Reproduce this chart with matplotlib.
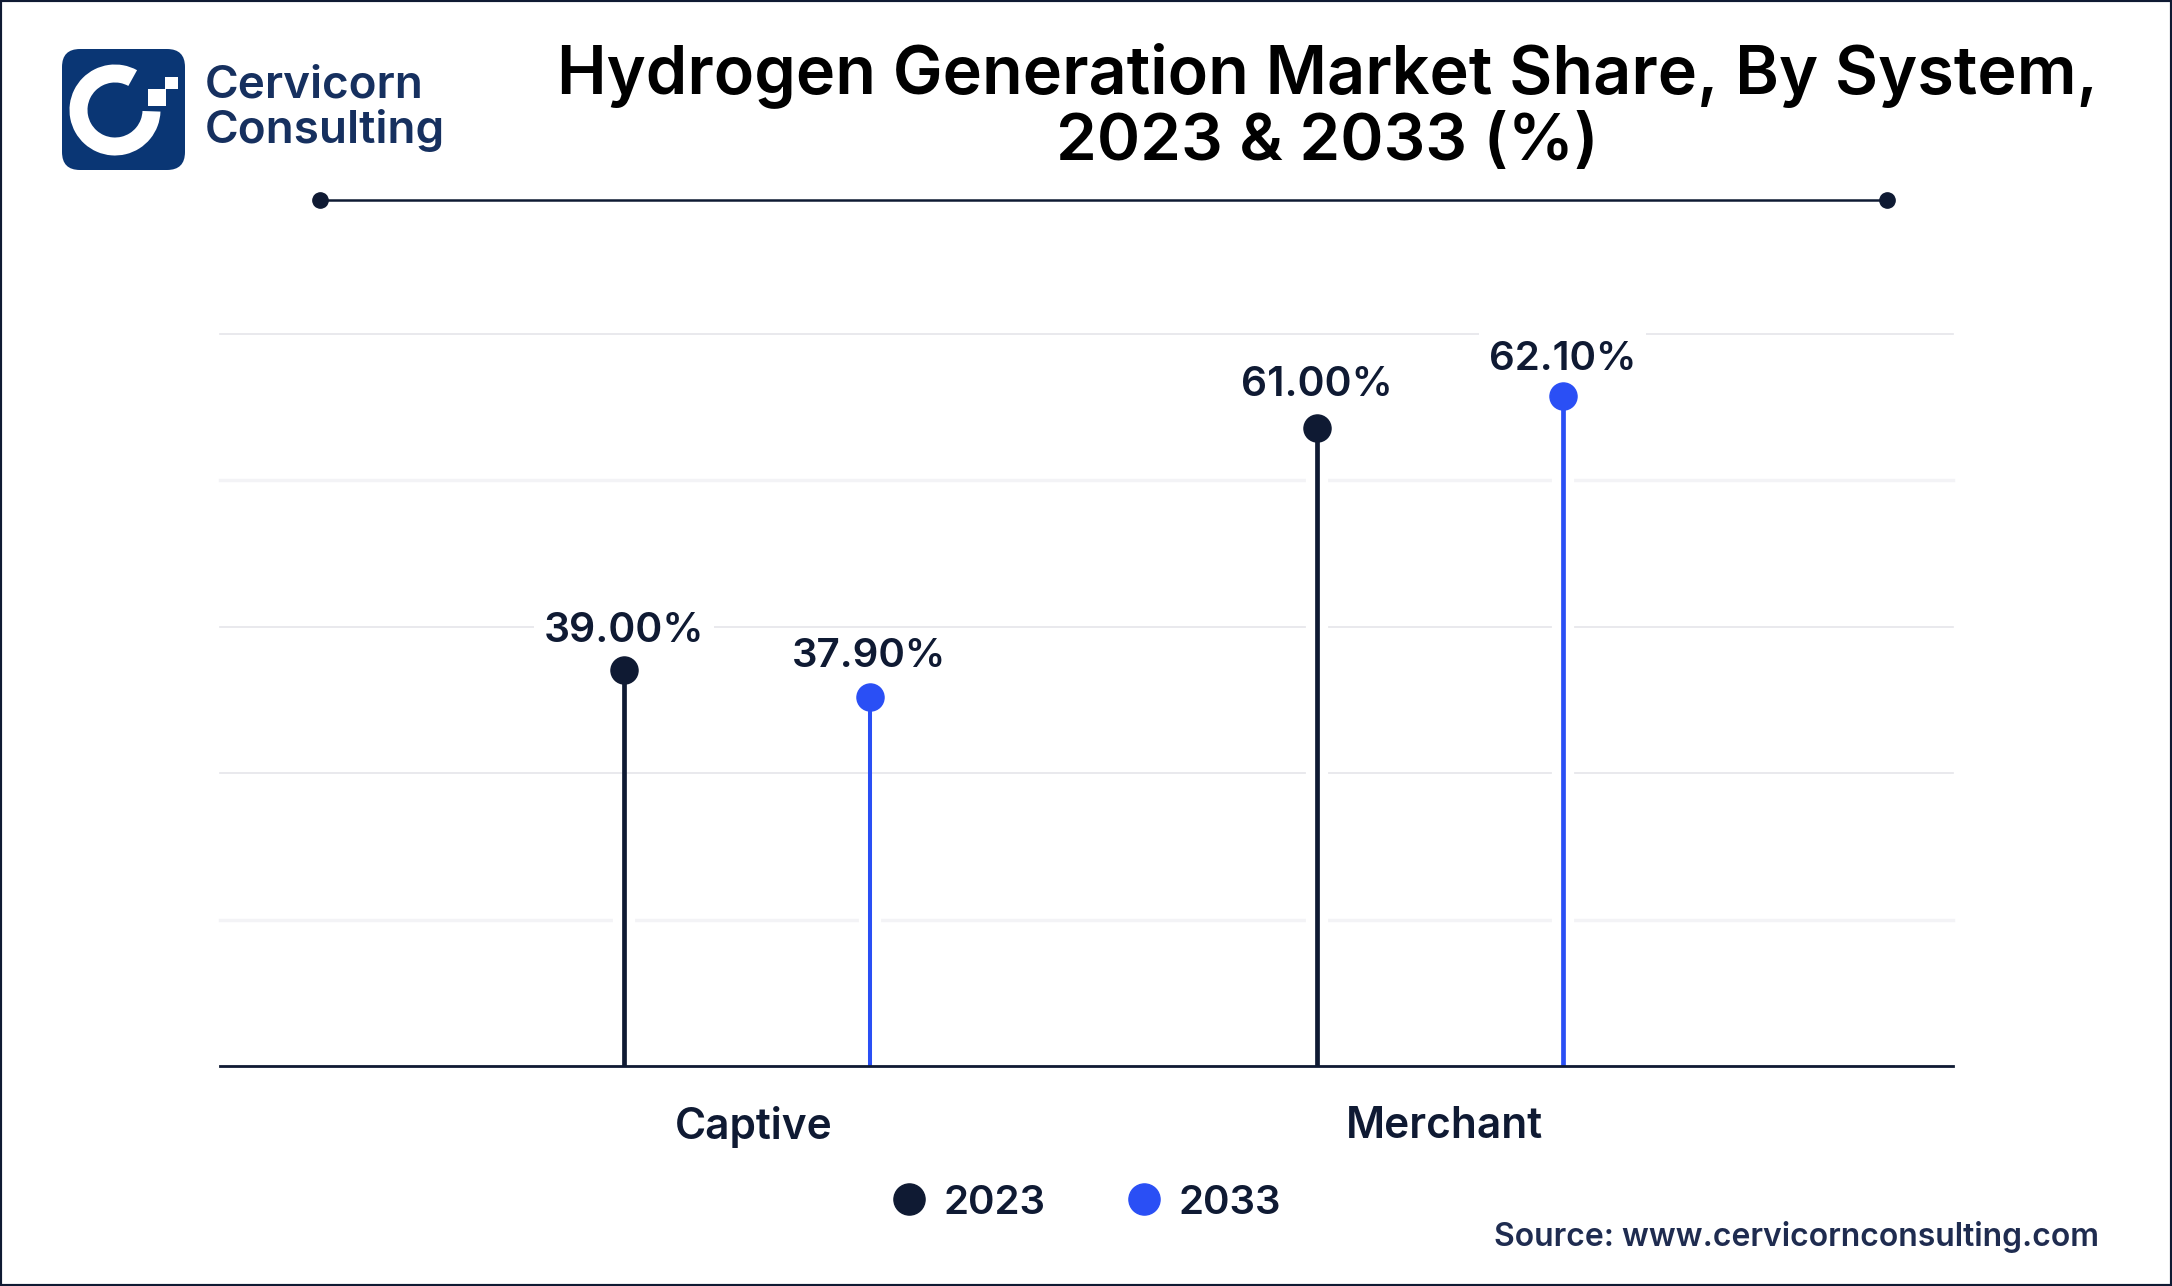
import matplotlib
matplotlib.use('Agg')
import matplotlib.pyplot as plt
from matplotlib.patches import FancyBboxPatch, Wedge, Rectangle

W, H = 2172, 1286

categories = ['Captive', 'Merchant']
years = ['2023', '2033']
# stem heights as drawn in the picture, they do not quite follow the printed labels
heights_2023 = [37.9, 61.0]
heights_2033 = [35.3, 64.1]
labels_2023 = ['39.00%', '61.00%']
labels_2033 = ['37.90%', '62.10%']
y_ticks = [0, 14, 28, 42, 56, 70]

DARK = '#0f1a33'
BLUE = '#2a4ff5'
NAVY = '#0a3674'
FONT = ['Inter', 'Roboto', 'DejaVu Sans']

plt.rcParams['font.family'] = FONT


def fx(px):
    return px / W


def fy(px):
    return 1 - px / H


fig = plt.figure(figsize=(W / 100, H / 100), dpi=100, facecolor='white')
fig.add_artist(Rectangle((0, 0), 1, 1, transform=fig.transFigure, fill=False,
                         edgecolor=DARK, linewidth=3))

# Title and divider
fig.text(fx(1327), fy(75), 'Hydrogen Generation Market Share, By System,', ha='center', va='center',
         fontsize=47.9, fontweight='semibold', color='black')
fig.text(fx(1327), fy(143), '2023 & 2033 (%)', ha='center', va='center',
         fontsize=47.3, fontweight='semibold', color='black')
fig.add_artist(plt.Line2D([fx(320), fx(1887)], [fy(199.5), fy(199.5)], color=DARK, linewidth=1.8,
                          marker='o', markersize=11, markevery=[0, 1], transform=fig.transFigure))

# Logo
logo = fig.add_axes([0, 0, 1, 1], facecolor='none')
logo.set_xlim(0, W)
logo.set_ylim(H, 0)
logo.axis('off')
logo.add_patch(FancyBboxPatch((62, 49), 123, 121, boxstyle='round,pad=0,rounding_size=18',
                              facecolor=NAVY, edgecolor='none'))
logo.add_patch(Wedge((115, 110), 45.5, 2, 299, width=18, facecolor='white', edgecolor='none'))
logo.add_patch(Rectangle((147.5, 89), 18, 17, facecolor='white', edgecolor='none'))
logo.add_patch(Rectangle((165, 77), 12.5, 12, facecolor='white', edgecolor='none'))
logo.text(205, 85, 'Cervicorn', fontsize=33, color='#16305f', va='center', ha='left', fontweight='semibold')
logo.text(205, 130, 'Consulting', fontsize=33, color='#16305f', va='center', ha='left', fontweight='semibold')

# Chart
ax = fig.add_axes([fx(220), fy(1066), fx(1953 - 220), (1066 - 334) / H], facecolor='none')
xs = range(len(categories))
offset = 0.177
lift_2023 = [28, 31]
lift_2033 = [29, 26]
gap_tops = [21, 70]
blue_widths = [2.9, 3.4]
for i in xs:
    x1 = i - offset
    x2 = i + offset
    # the grid stops short of the stems
    for x, top in [(x1, min(gap_tops[i], heights_2023[i])), (x2, min(gap_tops[i], heights_2033[i]))]:
        ax.plot([x, x], [0.3, top], color='white', linewidth=16, zorder=2, solid_capstyle='butt')
    ax.plot([x1, x1], [0, heights_2023[i]], color=DARK, linewidth=3.4, zorder=3, solid_capstyle='butt')
    ax.plot([x2, x2], [0, heights_2033[i]], color=BLUE, linewidth=blue_widths[i], zorder=3, solid_capstyle='butt')
    ax.annotate(labels_2023[i], (x1, heights_2023[i]), xytext=(0, lift_2023[i]), textcoords='offset points',
                ha='center', va='center', fontsize=29.5, fontweight='semibold', color=DARK, zorder=4,
                bbox=dict(facecolor='white', edgecolor='none', pad=7))
    ax.annotate(labels_2033[i], (x2, heights_2033[i]), xytext=(0, lift_2033[i]), textcoords='offset points',
                ha='center', va='center', fontsize=29, fontweight='semibold', color=DARK, zorder=4,
                bbox=dict(facecolor='white', edgecolor='none', pad=7))

h1, = ax.plot([i - offset for i in xs], heights_2023, 'o', color=DARK, markersize=19.5, zorder=5,
              linestyle='none', label=years[0], clip_on=False)
h2, = ax.plot([i + offset for i in xs], heights_2033, 'o', color=BLUE, markersize=19.5, zorder=5,
              linestyle='none', label=years[1], clip_on=False)

ax.set_xlim(-0.76, 1.74)
ax.set_ylim(0, 70)
ax.set_yticks(y_ticks)
ax.set_yticklabels([])
ax.set_xticks([0.01, 1.007])
ax.set_xticklabels(categories, fontsize=30.5, fontweight='semibold', color=DARK)
ax.tick_params(axis='both', length=0)
ax.tick_params(axis='x', pad=29)
ax.grid(axis='y', color='#e5e5ea', linewidth=1.2, zorder=0)
for tick, line in zip(y_ticks, ax.get_ygridlines()):
    line.set_clip_on(False)
    if tick in (14, 56):
        line.set_color('#f3f3f6')
        line.set_linewidth(2.4)
ax.set_axisbelow(True)
for s in ['top', 'left', 'right']:
    ax.spines[s].set_visible(False)
ax.spines['bottom'].set_color(DARK)
ax.spines['bottom'].set_linewidth(2)
ax.spines['bottom'].set_zorder(6)

fig.legend(handles=[h1, h2], loc='center', bbox_to_anchor=(fx(1085), fy(1203)), ncols=2, frameon=False,
           prop=dict(size=29, weight='semibold'), labelcolor=DARK, columnspacing=1.95, handletextpad=0.35,
           handlelength=1.0, markerscale=1.15)

fig.text(fx(2099), fy(1237), 'Source: www.cervicornconsulting.com', ha='right', va='center',
         fontsize=23, fontweight='semibold', color='#1f2c50')

fig.savefig('out.png', dpi=100)
